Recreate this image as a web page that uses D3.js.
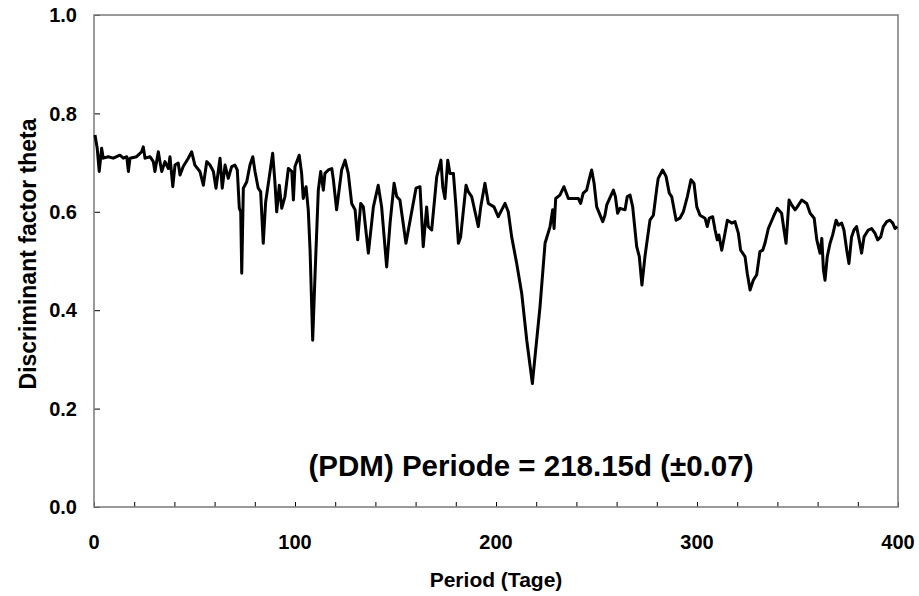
<!DOCTYPE html>
<html><head><meta charset="utf-8">
<script src="https://cdn.jsdelivr.net/npm/d3@7"></script>
<style>body{margin:0;background:#fff}svg{display:block}text{font-family:"Liberation Sans",Arial,sans-serif;font-weight:bold;fill:#000}</style>
</head><body><svg id="c" width="919" height="596"></svg>
<script>
const periods = [0.5,1.6,2.6,3.8,4.6,7.1,9.6,12.9,14.6,16.3,17.1,17.9,21.2,23.7,24.5,25.4,27.9,29.5,30.3,32.0,32.8,33.7,35.3,37.0,37.8,39.2,40.3,41.9,42.8,44.4,46.9,48.6,50.2,52.7,54.4,56.1,57.7,59.4,60.7,62.7,63.8,65.2,66.8,68.5,70.1,71.3,72.3,73.0,73.5,74.3,76.0,77.6,79.0,80.1,81.7,82.9,84.2,85.4,87.1,88.9,90.0,90.9,92.2,93.4,95.0,96.7,98.4,99.2,100.0,102.1,103.3,104.1,105.5,106.6,107.5,108.8,110.0,111.6,112.8,114.1,114.9,116.6,118.3,119.1,120.7,123.2,124.9,126.5,128.2,129.9,131.2,132.7,134.0,136.5,139.0,141.4,143.1,145.6,147.3,149.3,150.6,152.2,155.2,157.6,160.2,162.2,163.8,165.5,166.3,168.0,170.5,172.6,173.5,174.6,176.0,177.1,178.8,180.1,181.3,182.4,185.1,186.2,187.9,191.2,192.4,194.5,196.2,199.0,201.1,204.5,206.1,207.8,210.3,212.8,215.3,218.1,219.4,221.9,224.4,226.9,228.2,228.9,229.7,231.8,233.8,236.0,241.0,242.1,243.4,245.1,246.3,247.6,248.8,250.1,253.1,254.2,255.1,258.4,259.4,260.5,261.7,264.2,265.3,266.7,268.0,270.0,271.3,272.6,274.1,276.6,278.3,280.0,280.7,282.9,284.6,286.2,287.4,289.6,291.5,293.2,295.2,297.0,298.5,299.9,301.5,304.0,305.1,306.1,307.8,309.0,310.1,310.9,312.3,313.9,315.1,317.3,318.9,320.6,321.7,323.9,325.0,326.4,328.0,329.7,331.3,332.7,333.8,335.5,338.0,339.9,342.1,343.3,344.3,345.8,347.1,348.8,349.9,352.1,354.6,356.3,358.3,359.6,361.2,362.1,362.9,363.7,364.8,366.2,367.5,369.2,370.3,372.0,373.1,374.5,375.6,376.9,378.1,379.4,380.7,381.9,383.1,385.2,386.9,388.6,389.9,391.4,392.7,394.4,396.0,397.4,398.5,399.6];
const theta = [0.756,0.729,0.682,0.729,0.709,0.712,0.709,0.715,0.709,0.712,0.682,0.709,0.712,0.722,0.732,0.709,0.712,0.702,0.682,0.722,0.702,0.682,0.702,0.688,0.712,0.651,0.695,0.699,0.675,0.692,0.709,0.722,0.695,0.682,0.654,0.702,0.695,0.682,0.648,0.709,0.648,0.695,0.668,0.692,0.695,0.685,0.607,0.600,0.475,0.648,0.661,0.695,0.712,0.682,0.648,0.641,0.536,0.620,0.668,0.719,0.661,0.600,0.654,0.607,0.631,0.688,0.682,0.624,0.692,0.715,0.678,0.627,0.651,0.604,0.522,0.339,0.475,0.644,0.682,0.644,0.678,0.685,0.688,0.665,0.604,0.685,0.705,0.678,0.617,0.604,0.543,0.617,0.610,0.516,0.610,0.654,0.610,0.488,0.577,0.658,0.631,0.624,0.536,0.590,0.648,0.651,0.529,0.610,0.570,0.563,0.671,0.705,0.651,0.627,0.705,0.678,0.678,0.610,0.536,0.549,0.654,0.641,0.631,0.570,0.610,0.658,0.617,0.610,0.590,0.617,0.600,0.549,0.495,0.434,0.339,0.251,0.305,0.407,0.536,0.570,0.604,0.566,0.627,0.634,0.651,0.627,0.627,0.617,0.638,0.644,0.665,0.685,0.658,0.610,0.580,0.593,0.614,0.644,0.631,0.597,0.607,0.604,0.631,0.634,0.610,0.529,0.509,0.451,0.509,0.583,0.593,0.648,0.668,0.685,0.672,0.638,0.631,0.583,0.587,0.600,0.631,0.665,0.658,0.610,0.593,0.587,0.570,0.587,0.590,0.563,0.543,0.553,0.522,0.556,0.583,0.577,0.580,0.556,0.522,0.509,0.475,0.441,0.461,0.472,0.519,0.522,0.536,0.566,0.590,0.607,0.597,0.563,0.536,0.624,0.614,0.604,0.610,0.624,0.617,0.597,0.587,0.543,0.516,0.546,0.482,0.461,0.509,0.536,0.553,0.583,0.573,0.577,0.563,0.522,0.495,0.549,0.563,0.570,0.543,0.516,0.549,0.563,0.566,0.556,0.543,0.549,0.570,0.580,0.583,0.577,0.566,0.570];
const xTicks = [0,100,200,300,400];
const yTicks = [0.0,0.2,0.4,0.6,0.8,1.0];
const annotation = "(PDM) Periode = 218.15d (\u00B10.07)";
const xTitle = "Period (Tage)";
const yTitle = "Discriminant factor theta";

const svg = d3.select("#c");
const L=94, R=898, T=15, B=507;
const x = d3.scaleLinear().domain([0,400]).range([L,R]);
const y = d3.scaleLinear().domain([0,1]).range([B,T]);
const axisColor = "#808080";

const xMinor = d3.range(0,401,20);
svg.append("g").attr("transform",`translate(0,${B})`)
  .call(d3.axisBottom(x).tickValues(xMinor).tickSize(-5).tickFormat(""))
  .call(g=>{g.select(".domain").remove();g.selectAll("line").attr("stroke","#000").attr("stroke-width",1);});
svg.append("g").attr("transform",`translate(${L},0)`)
  .call(d3.axisLeft(y).tickValues(yTicks).tickSize(-6).tickFormat(""))
  .call(g=>{g.select(".domain").remove();g.selectAll("line").attr("stroke","#000").attr("stroke-width",1);});

svg.append("rect").attr("x",L).attr("y",T).attr("width",R-L).attr("height",B-T)
  .attr("fill","none").attr("stroke",axisColor).attr("stroke-width",1.6);

svg.append("g").selectAll("text").data(yTicks).join("text")
  .attr("x",77).attr("y",d=>y(d)).attr("dy","0.36em").attr("text-anchor","end")
  .attr("font-size",20).text(d=>d.toFixed(1));
svg.append("g").selectAll("text").data(xTicks).join("text")
  .attr("x",d=>x(d)).attr("y",549).attr("text-anchor","middle")
  .attr("font-size",20).text(d=>d);

const line = d3.line().x((d,i)=>x(periods[i])).y((d,i)=>y(theta[i]));
svg.append("path").datum(theta).attr("d",line).attr("fill","none")
  .attr("stroke","#000").attr("stroke-width",3).attr("stroke-linejoin","round");

svg.append("text").attr("x",531).attr("y",476).attr("text-anchor","middle")
  .attr("font-size",29.5).text(annotation);

svg.append("text").attr("x",496).attr("y",587).attr("text-anchor","middle")
  .attr("font-size",21).text(xTitle);
svg.append("text").attr("transform",`translate(36,254) rotate(-90)`)
  .attr("text-anchor","middle").attr("font-size",23).text(yTitle);
</script></body></html>
